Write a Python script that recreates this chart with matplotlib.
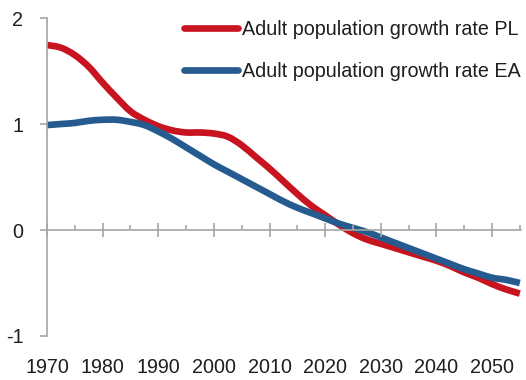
import matplotlib
matplotlib.use("Agg")
import matplotlib.pyplot as plt
from matplotlib.path import Path
from matplotlib.patches import PathPatch
from matplotlib.lines import Line2D
from matplotlib.ticker import MultipleLocator

# data, every 2.5 years
years = [1970 + 2.5 * i for i in range(35)]
pl = [1.745, 1.72, 1.65, 1.54, 1.39, 1.25, 1.12, 1.04, 0.98, 0.94, 0.92, 0.92,
      0.91, 0.88, 0.80, 0.69, 0.58, 0.46, 0.34, 0.23, 0.14, 0.05, -0.03, -0.09,
      -0.13, -0.17, -0.21, -0.25, -0.29, -0.34, -0.40, -0.45, -0.51, -0.56, -0.60]
ea = [0.99, 1.00, 1.01, 1.03, 1.04, 1.04, 1.02, 0.99, 0.93, 0.86, 0.78, 0.70,
      0.62, 0.55, 0.48, 0.41, 0.34, 0.27, 0.21, 0.16, 0.11, 0.06, 0.02, -0.02,
      -0.07, -0.12, -0.17, -0.22, -0.27, -0.32, -0.37, -0.41, -0.45, -0.47, -0.50]
year_ticks = [1970, 1980, 1990, 2000, 2010, 2020, 2030, 2040, 2050]
y_ticks = [-1, 0, 1, 2]
labels = ["Adult population growth rate PL", "Adult population growth rate EA"]

plt.rcParams["font.family"] = ["Liberation Sans", "DejaVu Sans"]

RED = "#C8141F"
BLUE = "#255B8E"
GRAY = "#A6A6A6"
TXT = "#1f1f1f"
FS = 14.2
LW = 4.8


def smooth_path(x, y):
    # smoothed line like the spreadsheet one: Catmull-Rom as cubic Beziers
    pts = list(zip(x, y))
    verts = [pts[0]]
    codes = [Path.MOVETO]
    n = len(pts)
    for i in range(n - 1):
        p0 = pts[max(i - 1, 0)]
        p1 = pts[i]
        p2 = pts[i + 1]
        p3 = pts[min(i + 2, n - 1)]
        c1 = (p1[0] + (p2[0] - p0[0]) / 6, p1[1] + (p2[1] - p0[1]) / 6)
        c2 = (p2[0] - (p3[0] - p1[0]) / 6, p2[1] - (p3[1] - p1[1]) / 6)
        verts += [c1, c2, p2]
        codes += [Path.CURVE4] * 3
    return Path(verts, codes)


fig = plt.figure(figsize=(5.26, 3.8), dpi=100)
ax = fig.add_axes([0.0894, 0.1158, 0.9010, 0.8368])

for vals, col in [(pl, RED), (ea, BLUE)]:
    ax.add_patch(PathPatch(smooth_path(years, vals), fill=False, edgecolor=col,
                           lw=LW, capstyle="butt", joinstyle="round"))

ax.set_xlim(1970, 2055.2)
ax.set_ylim(-1, 2)

for s in ["top", "right"]:
    ax.spines[s].set_visible(False)
ax.spines["left"].set_color(GRAY)
ax.spines["left"].set_linewidth(1.2)
ax.spines["bottom"].set_position(("data", 0))
ax.spines["bottom"].set_color(GRAY)
ax.spines["bottom"].set_linewidth(1.2)

ax.set_yticks(y_ticks)
ax.set_yticklabels([str(v) for v in y_ticks])
ax.tick_params(axis="y", direction="out", length=5, width=1.2, color=GRAY,
               labelsize=FS, pad=12, labelcolor=TXT)

ax.set_xticks(year_ticks)
ax.xaxis.set_minor_locator(MultipleLocator(5))
ax.tick_params(axis="x", which="major", direction="inout", length=10.5,
               width=1.2, color=GRAY, labelbottom=False)
ax.tick_params(axis="x", which="minor", direction="in", length=3.6,
               width=1.2, color=GRAY)

sec = ax.secondary_xaxis("bottom")
sec.set_xticks(year_ticks)
sec.set_xticklabels([str(y) for y in year_ticks])
sec.spines["bottom"].set_visible(False)
sec.tick_params(axis="x", length=0, labelsize=FS, pad=16, labelcolor=TXT)

handles = [Line2D([], [], color=RED, lw=LW, solid_capstyle="round"),
           Line2D([], [], color=BLUE, lw=LW, solid_capstyle="round")]
leg = fig.legend(handles, labels, loc="upper left",
                 bbox_to_anchor=(184 / 526, 1 - 20 / 380),
                 bbox_transform=fig.transFigure, frameon=False, fontsize=FS,
                 handlelength=2.75, handletextpad=0.2, labelspacing=1.15,
                 borderpad=0, borderaxespad=0)
for t in leg.get_texts():
    t.set_color(TXT)

fig.savefig("out.png", dpi=100)
